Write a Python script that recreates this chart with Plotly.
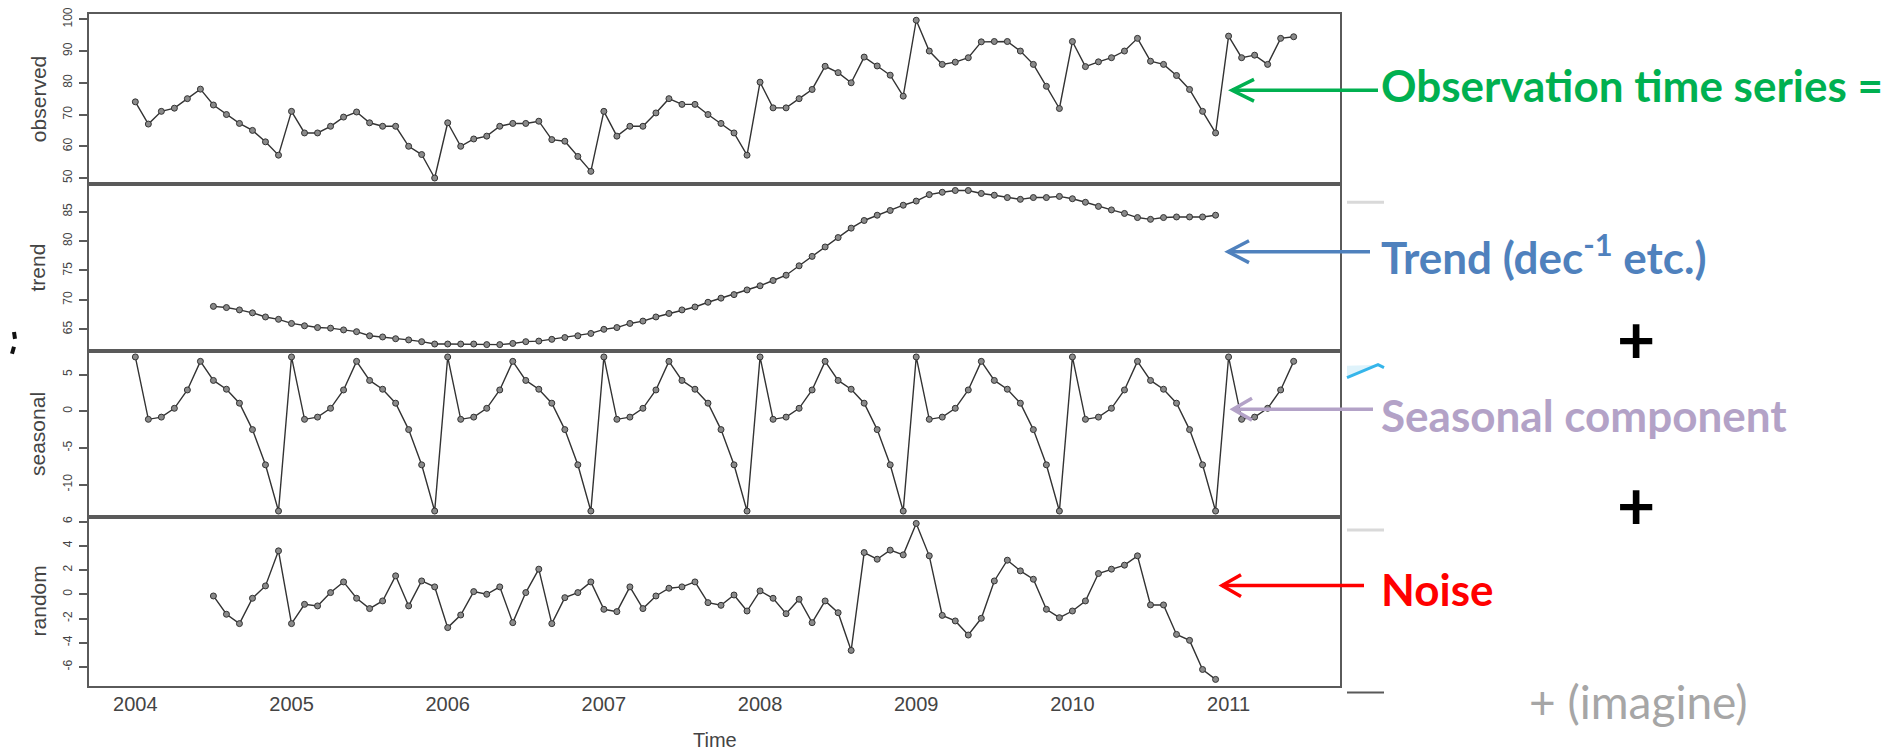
import plotly.graph_objects as go

W, H = 1895, 754

# ---------------- data (monthly series, start 2004 Jan) ----------------
START_YEAR = 2004
FREQ = 12
TREND_OFFSET = 6  # trend / random begin in July 2004

observed = [
    74.0, 67.0, 71.0, 72.0, 75.0, 78.0, 73.0, 70.0, 67.2, 65.0, 61.4, 57.2,
    71.0, 64.2, 64.2, 66.3, 69.2, 70.8, 67.4, 66.3, 66.3, 60.0, 57.4, 50.0,
    67.4, 60.0, 62.3, 63.2, 66.3, 67.2, 67.2, 67.9, 62.1, 61.6, 56.8, 52.1,
    71.0, 63.2, 66.3, 66.3, 70.5, 75.0, 73.2, 73.2, 70.0, 67.2, 64.2, 57.2,
    80.2, 72.1, 72.1, 75.0, 77.9, 85.2, 83.2, 80.0, 88.1, 85.3, 82.4, 75.8,
    99.7, 90.0, 85.8, 86.5, 87.9, 92.9, 93.0, 93.0, 90.0, 85.8, 78.9, 71.9,
    93.0, 85.1, 86.6, 87.9, 90.0, 94.0, 86.8, 85.8, 82.3, 77.9, 71.0, 64.2,
    94.7, 87.9, 88.7, 85.8, 94.0, 94.5,
]

trend = [
    68.9, 68.7, 68.3, 67.8, 67.1, 66.7,
    66.0, 65.6, 65.3, 65.2, 64.9, 64.6, 63.9, 63.7, 63.4, 63.2, 62.9, 62.5,
    62.5, 62.5, 62.5, 62.4, 62.4, 62.6, 62.9, 63.0, 63.3, 63.6, 63.9, 64.3,
    65.0, 65.3, 66.0, 66.4, 67.1, 67.7, 68.3, 68.8, 69.6, 70.3, 70.9, 71.7,
    72.4, 73.3, 74.2, 75.8, 77.4, 79.0, 80.6, 82.2, 83.5, 84.4, 85.2, 86.1,
    86.8, 87.9, 88.3, 88.6, 88.6, 88.1, 87.8, 87.4, 87.1, 87.4, 87.4, 87.6,
    87.2, 86.6, 85.9, 85.3, 84.7, 84.0, 83.7, 84.0, 84.1, 84.1, 84.1, 84.4,
]

seasonal = [
    7.4, -1.1, -0.8, 0.4, 2.9, 6.8, 4.2, 3.0, 1.1, -2.5, -7.3, -13.6,
    7.4, -1.1, -0.8, 0.4, 2.9, 6.8, 4.2, 3.0, 1.1, -2.5, -7.3, -13.6,
    7.4, -1.1, -0.8, 0.4, 2.9, 6.8, 4.2, 3.0, 1.1, -2.5, -7.3, -13.6,
    7.4, -1.1, -0.8, 0.4, 2.9, 6.8, 4.2, 3.0, 1.1, -2.5, -7.3, -13.6,
    7.4, -1.1, -0.8, 0.4, 2.9, 6.8, 4.2, 3.0, 1.1, -2.5, -7.3, -13.6,
    7.4, -1.1, -0.8, 0.4, 2.9, 6.8, 4.2, 3.0, 1.1, -2.5, -7.3, -13.6,
    7.4, -1.1, -0.8, 0.4, 2.9, 6.8, 4.2, 3.0, 1.1, -2.5, -7.3, -13.6,
    7.4, -1.1, -0.8, 0.4, 2.9, 6.8,
]

random_part = [
    -0.14, -1.65, -2.42, -0.33, 0.69, 3.58,
    -2.42, -0.83, -0.96, 0.14, 1.02, -0.33, -1.18, -0.55, 1.52, -0.96, 1.10, 0.61,
    -2.75, -1.71, 0.22, 0.00, 0.61, -2.34, 0.14, 2.07, -2.42, -0.28, 0.14, 1.02,
    -1.24, -1.43, 0.61, -1.18, -0.14, 0.50, 0.61, 1.02, -0.69, -0.91, -0.06, -1.38,
    0.28, -0.33, -1.60, -0.41, -2.34, -0.55, -1.52, -4.63, 3.44, 2.89, 3.64, 3.25,
    5.84, 3.17, -1.74, -2.20, -3.36, -1.98, 1.10, 2.81, 1.93, 1.24, -1.24, -1.93,
    -1.38, -0.55, 1.71, 2.07, 2.40, 3.17, -0.88, -0.88, -3.31, -3.80, -6.20, -7.02,
]

panel_names = ["observed", "trend", "seasonal", "random"]
year_ticks = [2004, 2005, 2006, 2007, 2008, 2009, 2010, 2011]
obs_ticks = [50, 60, 70, 80, 90, 100]
trend_ticks = [65, 70, 75, 80, 85]
seas_ticks = [-10, -5, 0, 5]
rand_ticks = [-6, -4, -2, 0, 2, 4, 6]

# time index of the monthly series
full_time = [START_YEAR + i / FREQ for i in range(len(observed))]
part_time = [START_YEAR + (i + TREND_OFFSET) / FREQ for i in range(len(trend))]


def rng(vals):
    lo, hi = min(vals), max(vals)
    ext = 0.04 * (hi - lo)
    return [lo - ext, hi + ext]


x_range = rng(full_time)

# ---------------- layout helpers (pixel -> paper) ----------------
def px(x):
    return x / W


def py(y):
    return 1 - y / H


PLOT_L, PLOT_R = 89, 1340
panel_px = [(7, 179), (179, 347), (347, 515), (515, 685)]

LINE_C = "#333333"
MARK_C = "#8a8a8a"
AX_C = "#5a5a5a"
TXT_C = "#444444"
R_FONT = "Liberation Sans, Arial, sans-serif"
SLIDE_FONT = "Lato, Carlito, Calibri, sans-serif"

fig = go.Figure()

series = [
    (full_time, observed, obs_ticks),
    (part_time, trend, trend_ticks),
    (full_time, seasonal, seas_ticks),
    (part_time, random_part, rand_ticks),
]

layout_axes = {}
for k, (tx, ty, ticks) in enumerate(series):
    idx = "" if k == 0 else str(k + 1)
    fig.add_trace(go.Scatter(
        x=tx, y=ty, mode="lines+markers",
        line=dict(color=LINE_C, width=1.4),
        marker=dict(size=6, color=MARK_C, line=dict(color=LINE_C, width=1)),
        xaxis="x" + idx, yaxis="y" + idx, showlegend=False,
        hoverinfo="x+y",
    ))
    top, bot = panel_px[k]
    last = k == 3
    xa = dict(
        domain=[px(PLOT_L), px(PLOT_R)], range=x_range, anchor="y" + idx,
        showline=True, mirror=True, linecolor=AX_C, linewidth=1.6,
        showgrid=False, zeroline=False, ticks="",
    )
    if last:
        xa.update(tickvals=year_ticks, ticktext=[str(v) for v in year_ticks],
                  showticklabels=True,
                  tickfont=dict(family=R_FONT, size=20, color=TXT_C))
    else:
        xa.update(showticklabels=False)
    layout_axes["xaxis" + idx] = xa
    layout_axes["yaxis" + idx] = dict(
        domain=[py(bot), py(top)], range=rng(ty), anchor="x" + idx,
        showline=True, mirror=True, linecolor=AX_C, linewidth=1.6,
        showgrid=False, zeroline=False,
        tickvals=ticks, ticktext=[str(v) for v in ticks],
        ticks="outside", ticklen=8, tickwidth=1.5, tickcolor=AX_C,
        tickangle=-90, ticklabelstandoff=2,
        tickfont=dict(family=R_FONT, size=12, color=TXT_C),
    )

fig.update_layout(**layout_axes)

annotations = []
# panel titles (rotated)
for k, name in enumerate(panel_names):
    top, bot = panel_px[k]
    annotations.append(dict(
        x=px(38), y=py((top + bot) / 2), xref="paper", yref="paper",
        text=name, textangle=-90, showarrow=False,
        font=dict(family=R_FONT, size=21, color=TXT_C),
        xanchor="center", yanchor="middle",
    ))
annotations.append(dict(
    x=px((PLOT_L + PLOT_R) / 2), y=py(740), xref="paper", yref="paper",
    text="Time", showarrow=False,
    font=dict(family=R_FONT, size=20, color=TXT_C),
    xanchor="center", yanchor="middle",
))

# slide labels
labels = [
    ("<b>Observation time series =</b>", 1379, 79, "#00b050", 44),
    ("<b>Trend (dec<sup>-1</sup> etc.)</b>", 1379, 250, "#4f81bd", 44),
    ("<b>Seasonal component</b>", 1379, 412, "#b3a2c7", 44),
    ("<b>Noise</b>", 1379, 587, "#ff0000", 44),
    ("+ (imagine)", 1527, 701, "#a6a6a6", 46),
]
for text, x, y, col, size in labels:
    annotations.append(dict(
        x=px(x), y=py(y), xref="paper", yref="paper", text=text,
        showarrow=False, xanchor="left", yanchor="middle",
        font=dict(family=SLIDE_FONT, size=size, color=col),
    ))
for y in (335, 502):
    annotations.append(dict(
        x=px(1636), y=py(y), xref="paper", yref="paper", text="<b>+</b>",
        showarrow=False, xanchor="center", yanchor="middle",
        font=dict(family=SLIDE_FONT, size=66, color="#000000"),
    ))

shapes = []
# arrows: (tip_x, y, tail_x, arm_dx, arm_dy, colour)
arrows = [
    (1232, 84, 1378, 22, 11, "#00b050"),
    (1228, 247, 1370, 21, 11, "#4f81bd"),
    (1233, 406, 1373, 19, 11, "#b3a2c7"),
    (1222, 584, 1364, 19, 11, "#ff0000"),
]
for tx, y, tl, adx, ady, col in arrows:
    shapes.append(dict(type="line", xref="paper", yref="paper",
                       x0=px(tx), y0=py(y), x1=px(tl), y1=py(y),
                       line=dict(color=col, width=3.5)))
    path = "M{},{} L{},{} L{},{}".format(
        px(tx + adx), py(y - ady), px(tx), py(y), px(tx + adx), py(y + ady))
    shapes.append(dict(type="path", xref="paper", yref="paper", path=path,
                       line=dict(color=col, width=3.5)))

# small leftover marks on the slide
for y, col, w in ((197, "#d9d9d9", 3), (528, "#d9d9d9", 3), (692, "#595959", 2)):
    shapes.append(dict(type="line", xref="paper", yref="paper",
                       x0=px(1347), y0=py(y), x1=px(1384), y1=py(y),
                       line=dict(color=col, width=w)))
shapes.append(dict(type="path", xref="paper", yref="paper",
                   path="M{},{} L{},{} L{},{} L{},{} Z".format(
                       px(1347), py(362), px(1384), py(361), px(1378), py(361), px(1347), py(374)),
                   fillcolor="#dff3fb", line=dict(width=0)))
shapes.append(dict(type="path", xref="paper", yref="paper",
                   path="M{},{} L{},{} L{},{}".format(
                       px(1347), py(374), px(1378), py(361), px(1384), py(364)),
                   line=dict(color="#35b5ea", width=3)))
shapes.append(dict(type="line", xref="paper", yref="paper",
                   x0=px(14), y0=py(328), x1=px(15), y1=py(335),
                   line=dict(color="#111111", width=4)))
shapes.append(dict(type="line", xref="paper", yref="paper",
                   x0=px(14), y0=py(343), x1=px(12), y1=py(350),
                   line=dict(color="#111111", width=4)))

fig.update_layout(
    width=W, height=H, autosize=False,
    margin=dict(l=0, r=0, t=0, b=0),
    paper_bgcolor="white", plot_bgcolor="white",
    annotations=annotations, shapes=shapes,
    showlegend=False,
)

fig.write_html("out.html", config={"displayModeBar": False},
               post_script="document.body.style.margin='0px';")
